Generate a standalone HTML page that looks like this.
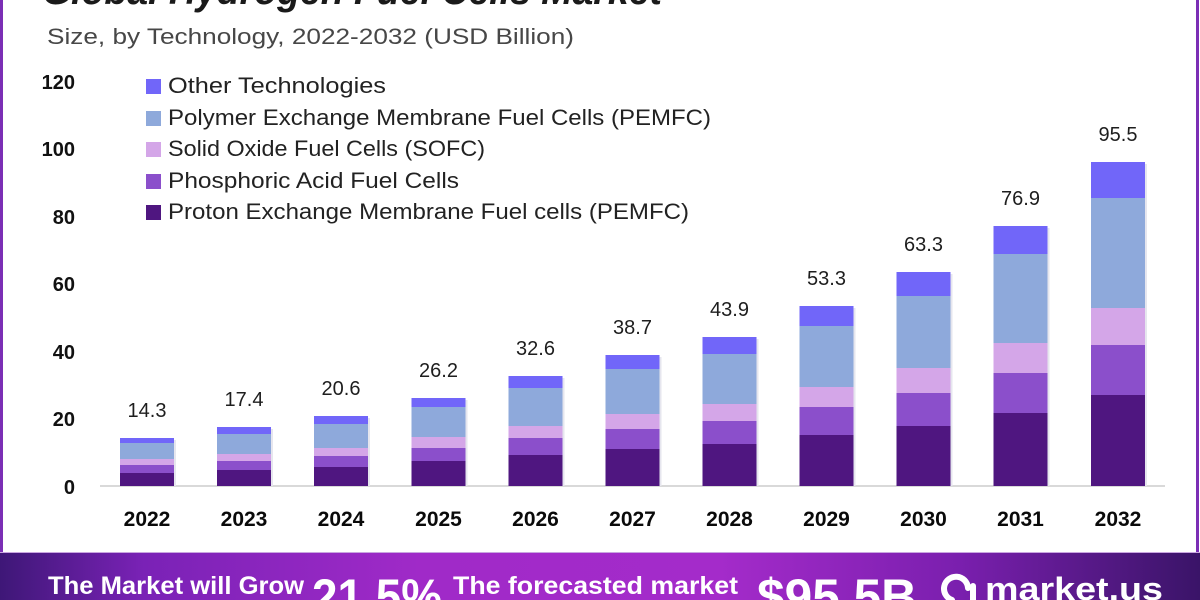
<!DOCTYPE html>
<html>
<head>
<meta charset="utf-8">
<style>
  html,body{margin:0;padding:0;background:#fff;}
  body{width:1200px;height:600px;overflow:hidden;}
  svg{display:block;}
  text{font-family:"Liberation Sans", Arial, sans-serif;}
</style>
</head>
<body>
<svg width="1200" height="600" viewBox="0 0 1200 600" xmlns="http://www.w3.org/2000/svg">
  <defs>
    <linearGradient id="ban" x1="0" y1="0" x2="1" y2="0">
      <stop offset="0" stop-color="#3e1777"/>
      <stop offset="0.12" stop-color="#7a22b6"/>
      <stop offset="0.35" stop-color="#a02ac8"/>
      <stop offset="0.6" stop-color="#a42bca"/>
      <stop offset="0.8" stop-color="#7a1fae"/>
      <stop offset="1" stop-color="#3a1468"/>
    </linearGradient>
  </defs>
  <rect x="0" y="0" width="1200" height="600" fill="#fff"/>
  <!-- borders -->
  <rect x="0" y="0" width="3" height="553" fill="#7b2fb5"/>
  <rect x="1196" y="0" width="3" height="553" fill="#7b2fb5"/>

  <!-- title (clipped at top) -->
  <text x="42" y="4" font-size="40" font-weight="bold" font-style="italic" fill="#1a1a1a" textLength="620" lengthAdjust="spacingAndGlyphs">Global Hydrogen Fuel Cells Market</text>
  <text x="47" y="44" font-size="22" fill="#474747" textLength="527" lengthAdjust="spacingAndGlyphs">Size, by Technology, 2022-2032 (USD Billion)</text>

  <!-- y axis labels -->
  <g font-size="20" font-weight="bold" fill="#111" text-anchor="end">
    <text x="75" y="89">120</text>
    <text x="75" y="156">100</text>
    <text x="75" y="224">80</text>
    <text x="75" y="291">60</text>
    <text x="75" y="359">40</text>
    <text x="75" y="426">20</text>
    <text x="75" y="494">0</text>
  </g>

  <!-- legend -->
  <g>
    <rect x="146" y="79" width="15" height="15" fill="#7166f9"/>
    <rect x="146" y="111" width="15" height="15" fill="#8ea9db"/>
    <rect x="146" y="142" width="15" height="15" fill="#d4a6e8"/>
    <rect x="146" y="174" width="15" height="15" fill="#8b4fcb"/>
    <rect x="146" y="205" width="15" height="15" fill="#4f1680"/>
  </g>
  <g font-size="22" fill="#222">
    <text x="168" y="93" textLength="218" lengthAdjust="spacingAndGlyphs">Other Technologies</text>
    <text x="168" y="125" textLength="543" lengthAdjust="spacingAndGlyphs">Polymer Exchange Membrane Fuel Cells (PEMFC)</text>
    <text x="168" y="156" textLength="317" lengthAdjust="spacingAndGlyphs">Solid Oxide Fuel Cells (SOFC)</text>
    <text x="168" y="188" textLength="291" lengthAdjust="spacingAndGlyphs">Phosphoric Acid Fuel Cells</text>
    <text x="168" y="219" textLength="521" lengthAdjust="spacingAndGlyphs">Proton Exchange Membrane Fuel cells (PEMFC)</text>
  </g>

  <!-- axis line -->
  <rect x="100" y="485" width="1065" height="2" fill="#d9d9d9"/>

  <!-- bars: top, o/p, p/s, s/ph, ph/pr, bottom 486 -->
  <g id="bars">
    <!-- 2022 c=147 -->
    <g transform="translate(120,0)">
      <rect x="2" y="440" width="54" height="46" fill="#e6e6ee"/>
      <rect x="0" y="438" width="54" height="5" fill="#7166f9"/>
      <rect x="0" y="443" width="54" height="16" fill="#8ea9db"/>
      <rect x="0" y="459" width="54" height="6" fill="#d4a6e8"/>
      <rect x="0" y="465" width="54" height="8" fill="#8b4fcb"/>
      <rect x="0" y="473" width="54" height="13" fill="#4f1680"/>
    </g>
    <!-- 2023 c=244 -->
    <g transform="translate(217,0)">
      <rect x="2" y="429" width="54" height="57" fill="#e6e6ee"/>
      <rect x="0" y="427" width="54" height="7" fill="#7166f9"/>
      <rect x="0" y="434" width="54" height="20" fill="#8ea9db"/>
      <rect x="0" y="454" width="54" height="7" fill="#d4a6e8"/>
      <rect x="0" y="461" width="54" height="9" fill="#8b4fcb"/>
      <rect x="0" y="470" width="54" height="16" fill="#4f1680"/>
    </g>
    <!-- 2024 c=341 -->
    <g transform="translate(314,0)">
      <rect x="2" y="418" width="54" height="68" fill="#e6e6ee"/>
      <rect x="0" y="416" width="54" height="8" fill="#7166f9"/>
      <rect x="0" y="424" width="54" height="24" fill="#8ea9db"/>
      <rect x="0" y="448" width="54" height="8" fill="#d4a6e8"/>
      <rect x="0" y="456" width="54" height="11" fill="#8b4fcb"/>
      <rect x="0" y="467" width="54" height="19" fill="#4f1680"/>
    </g>
    <!-- 2025 c=438.5 -->
    <g transform="translate(411.5,0)">
      <rect x="2" y="400" width="54" height="86" fill="#e6e6ee"/>
      <rect x="0" y="398" width="54" height="9" fill="#7166f9"/>
      <rect x="0" y="407" width="54" height="30" fill="#8ea9db"/>
      <rect x="0" y="437" width="54" height="11" fill="#d4a6e8"/>
      <rect x="0" y="448" width="54" height="13" fill="#8b4fcb"/>
      <rect x="0" y="461" width="54" height="25" fill="#4f1680"/>
    </g>
    <!-- 2026 c=535.5 -->
    <g transform="translate(508.5,0)">
      <rect x="2" y="378" width="54" height="108" fill="#e6e6ee"/>
      <rect x="0" y="376" width="54" height="12" fill="#7166f9"/>
      <rect x="0" y="388" width="54" height="38" fill="#8ea9db"/>
      <rect x="0" y="426" width="54" height="12" fill="#d4a6e8"/>
      <rect x="0" y="438" width="54" height="17" fill="#8b4fcb"/>
      <rect x="0" y="455" width="54" height="31" fill="#4f1680"/>
    </g>
    <!-- 2027 c=632.5 -->
    <g transform="translate(605.5,0)">
      <rect x="2" y="357" width="54" height="129" fill="#e6e6ee"/>
      <rect x="0" y="355" width="54" height="14" fill="#7166f9"/>
      <rect x="0" y="369" width="54" height="45" fill="#8ea9db"/>
      <rect x="0" y="414" width="54" height="15" fill="#d4a6e8"/>
      <rect x="0" y="429" width="54" height="20" fill="#8b4fcb"/>
      <rect x="0" y="449" width="54" height="37" fill="#4f1680"/>
    </g>
    <!-- 2028 c=729.5 -->
    <g transform="translate(702.5,0)">
      <rect x="2" y="339" width="54" height="147" fill="#e6e6ee"/>
      <rect x="0" y="337" width="54" height="17" fill="#7166f9"/>
      <rect x="0" y="354" width="54" height="50" fill="#8ea9db"/>
      <rect x="0" y="404" width="54" height="17" fill="#d4a6e8"/>
      <rect x="0" y="421" width="54" height="23" fill="#8b4fcb"/>
      <rect x="0" y="444" width="54" height="42" fill="#4f1680"/>
    </g>
    <!-- 2029 c=826.5 -->
    <g transform="translate(799.5,0)">
      <rect x="2" y="308" width="54" height="178" fill="#e6e6ee"/>
      <rect x="0" y="306" width="54" height="20" fill="#7166f9"/>
      <rect x="0" y="326" width="54" height="61" fill="#8ea9db"/>
      <rect x="0" y="387" width="54" height="20" fill="#d4a6e8"/>
      <rect x="0" y="407" width="54" height="28" fill="#8b4fcb"/>
      <rect x="0" y="435" width="54" height="51" fill="#4f1680"/>
    </g>
    <!-- 2030 c=923.5 -->
    <g transform="translate(896.5,0)">
      <rect x="2" y="274" width="54" height="212" fill="#e6e6ee"/>
      <rect x="0" y="272" width="54" height="24" fill="#7166f9"/>
      <rect x="0" y="296" width="54" height="72" fill="#8ea9db"/>
      <rect x="0" y="368" width="54" height="25" fill="#d4a6e8"/>
      <rect x="0" y="393" width="54" height="33" fill="#8b4fcb"/>
      <rect x="0" y="426" width="54" height="60" fill="#4f1680"/>
    </g>
    <!-- 2031 c=1020.5 -->
    <g transform="translate(993.5,0)">
      <rect x="2" y="228" width="54" height="258" fill="#e6e6ee"/>
      <rect x="0" y="226" width="54" height="28" fill="#7166f9"/>
      <rect x="0" y="254" width="54" height="89" fill="#8ea9db"/>
      <rect x="0" y="343" width="54" height="30" fill="#d4a6e8"/>
      <rect x="0" y="373" width="54" height="40" fill="#8b4fcb"/>
      <rect x="0" y="413" width="54" height="73" fill="#4f1680"/>
    </g>
    <!-- 2032 c=1118 -->
    <g transform="translate(1091,0)">
      <rect x="2" y="164" width="54" height="322" fill="#e6e6ee"/>
      <rect x="0" y="162" width="54" height="36" fill="#7166f9"/>
      <rect x="0" y="198" width="54" height="110" fill="#8ea9db"/>
      <rect x="0" y="308" width="54" height="37" fill="#d4a6e8"/>
      <rect x="0" y="345" width="54" height="50" fill="#8b4fcb"/>
      <rect x="0" y="395" width="54" height="91" fill="#4f1680"/>
    </g>
  </g>

  <!-- value labels -->
  <g font-size="20" fill="#1e1e1e" text-anchor="middle">
    <text x="147" y="417">14.3</text>
    <text x="244" y="406">17.4</text>
    <text x="341" y="395">20.6</text>
    <text x="438.5" y="377">26.2</text>
    <text x="535.5" y="355">32.6</text>
    <text x="632.5" y="334">38.7</text>
    <text x="729.5" y="316">43.9</text>
    <text x="826.5" y="285">53.3</text>
    <text x="923.5" y="251">63.3</text>
    <text x="1020.5" y="205">76.9</text>
    <text x="1118" y="141">95.5</text>
  </g>

  <!-- x labels -->
  <g font-size="21" font-weight="bold" fill="#0a0a0a" text-anchor="middle">
    <text x="147" y="526">2022</text>
    <text x="244" y="526">2023</text>
    <text x="341" y="526">2024</text>
    <text x="438.5" y="526">2025</text>
    <text x="535.5" y="526">2026</text>
    <text x="632.5" y="526">2027</text>
    <text x="729.5" y="526">2028</text>
    <text x="826.5" y="526">2029</text>
    <text x="923.5" y="526">2030</text>
    <text x="1020.5" y="526">2031</text>
    <text x="1118" y="526">2032</text>
  </g>

  <!-- banner -->
  <rect x="0" y="552" width="1200" height="48" fill="url(#ban)"/>
  <rect x="0" y="552" width="1200" height="1" fill="#c9a6e0"/>
  <g fill="#ffffff" font-weight="bold">
    <text x="48" y="594" font-size="25" textLength="256" lengthAdjust="spacingAndGlyphs">The Market will Grow</text>
    <text x="312" y="614" font-size="50" textLength="130" lengthAdjust="spacingAndGlyphs">21.5%</text>
    <text x="453" y="594" font-size="25" textLength="285" lengthAdjust="spacingAndGlyphs">The forecasted market</text>
    <text x="757" y="614" font-size="50" textLength="160" lengthAdjust="spacingAndGlyphs">$95.5B</text>
    <text x="985" y="600" font-size="32" textLength="178" lengthAdjust="spacingAndGlyphs">market.us</text>
  </g>
  <!-- logo icon -->
  <g fill="none" stroke="#fff" stroke-width="6" stroke-linecap="round">
    <path d="M952 600 A12 12 0 1 1 968 588"/>
    <line x1="973" y1="586" x2="973" y2="600"/>
  </g>
</svg>
</body>
</html>
